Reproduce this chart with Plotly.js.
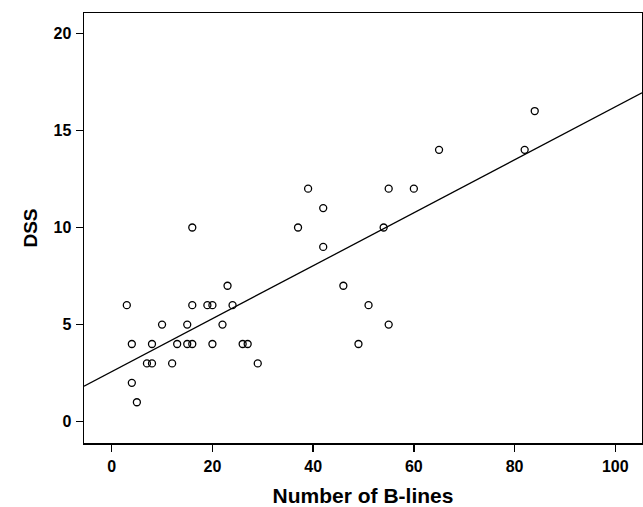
<!DOCTYPE html>
<html>
<head>
<meta charset="utf-8">
<script src="https://cdn.plot.ly/plotly-3.0.1.min.js"></script>
<style>html,body{margin:0;padding:0;background:#fff;}#chart{width:643px;height:507px;}</style>
</head>
<body>
<div id="chart"></div>
<script>
const bLines = [3,4,4,5,7,8,8,10,12,13,15,15,16,16,16,19,20,20,22,23,24,26,27,29,37,39,42,42,46,49,51,54,55,55,60,65,82,84];
const dss    = [6,4,2,1,3,3,4,5,3,4,5,4,4,6,10,6,6,4,5,7,6,4,4,3,10,12,11,9,7,4,6,10,12,5,12,14,14,16];
const xTicks = [0,20,40,60,80,100];
const yTicks = [0,5,10,15,20];
const xRange = [-5.5, 105.3];
const yRange = [-1.1, 21.05];

// least-squares fit line
const n = bLines.length;
const mx = bLines.reduce((a,b)=>a+b,0)/n;
const my = dss.reduce((a,b)=>a+b,0)/n;
let sxy = 0, sxx = 0;
for (let i=0;i<n;i++){ sxy += (bLines[i]-mx)*(dss[i]-my); sxx += (bLines[i]-mx)**2; }
const slope = sxy/sxx, icpt = my - slope*mx;
const fitX = xRange.slice();
const fitY = fitX.map(x => icpt + slope*x);

const font = 'Liberation Sans, Arial, sans-serif';
const data = [
  {x: fitX, y: fitY, mode: 'lines', line: {color: '#000', width: 1.3}, hoverinfo: 'skip'},
  {x: bLines, y: dss, mode: 'markers', marker: {symbol: 'circle-open', size: 7, color: '#000', line: {width: 1.3, color: '#000'}}}
];
const axisBase = {
  showgrid: false, zeroline: false, showline: true, mirror: true,
  linecolor: '#000', linewidth: 1.5, ticks: 'outside', ticklen: 7, tickwidth: 1.5, tickcolor: '#000',
  tickfont: {family: font, size: 16, color: '#000', weight: 'bold'}
};
const layout = {
  width: 643, height: 507,
  margin: {l: 84, r: 1, t: 13, b: 64},
  paper_bgcolor: '#fff', plot_bgcolor: '#fff',
  showlegend: false,
  xaxis: Object.assign({}, axisBase, {range: xRange, tickvals: xTicks, ticktext: xTicks.map(String),
    ticklabelstandoff: 1,
    title: {text: '<b>Number of B-lines</b>', font: {family: font, size: 21, color: '#000'}, standoff: 17}}),
  yaxis: Object.assign({}, axisBase, {range: yRange, tickvals: yTicks, ticktext: yTicks.map(String),
    ticklabelstandoff: 1,
    title: {text: '<b>DSS</b>', font: {family: font, size: 19, color: '#000'}, standoff: 11}})
};
Plotly.newPlot('chart', data, layout, {displayModeBar: false, staticPlot: true});
</script>
</body>
</html>
